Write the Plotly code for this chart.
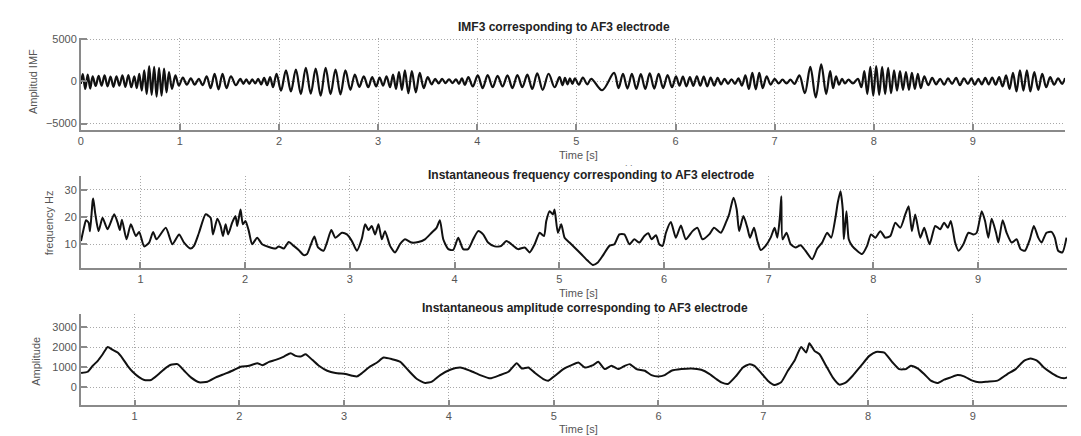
import plotly.graph_objects as go

# ---------------- data ----------------
# IMF3 extrema (time in s, value)
imf_t = [0.000, 0.020, 0.045, 0.070, 0.095, 0.120, 0.150, 0.180, 0.210, 0.240,
         0.270, 0.300, 0.330, 0.360, 0.390, 0.420, 0.450, 0.480, 0.510, 0.540,
         0.565, 0.590, 0.615, 0.640, 0.665, 0.690, 0.715, 0.740, 0.765, 0.790,
         0.815, 0.840, 0.865, 0.890, 0.920, 0.955, 0.990, 1.030, 1.070, 1.110,
         1.150, 1.190, 1.230, 1.270, 1.310, 1.350, 1.390, 1.430, 1.470, 1.515,
         1.565, 1.610, 1.640, 1.670, 1.700, 1.730, 1.760, 1.790, 1.820, 1.850,
         1.880, 1.910, 1.940, 1.975, 2.020, 2.070, 2.120, 2.170, 2.220, 2.270,
         2.320, 2.370, 2.420, 2.470, 2.520, 2.570, 2.620, 2.670, 2.720, 2.765,
         2.810, 2.855, 2.900, 2.940, 2.980, 3.015, 3.050, 3.085, 3.120, 3.150,
         3.180, 3.210, 3.240, 3.270, 3.305, 3.340, 3.380, 3.420, 3.460, 3.500,
         3.540, 3.575, 3.610, 3.645, 3.680, 3.715, 3.750, 3.785, 3.815, 3.845,
         3.875, 3.910, 3.955, 4.005, 4.055, 4.105, 4.155, 4.205, 4.255, 4.305,
         4.355, 4.405, 4.455, 4.505, 4.555, 4.605, 4.660, 4.720, 4.780, 4.830,
         4.860, 4.885, 4.910, 4.935, 4.960, 4.985, 5.025, 5.065, 5.110, 5.150,
         5.260, 5.380, 5.425, 5.470, 5.515, 5.560, 5.605, 5.650, 5.695, 5.740,
         5.785, 5.830, 5.875, 5.920, 5.965, 6.005, 6.040, 6.075, 6.110, 6.145,
         6.180, 6.215, 6.250, 6.285, 6.320, 6.355, 6.390, 6.425, 6.460, 6.495,
         6.530, 6.565, 6.600, 6.635, 6.670, 6.705, 6.740, 6.775, 6.810, 6.845,
         6.880, 6.920, 6.960, 7.000, 7.040, 7.080, 7.120, 7.160, 7.200, 7.250,
         7.305, 7.360, 7.415, 7.470, 7.520, 7.560, 7.590, 7.620, 7.650, 7.680,
         7.710, 7.745, 7.790, 7.840, 7.875, 7.905, 7.935, 7.965, 7.995, 8.025,
         8.055, 8.085, 8.115, 8.145, 8.175, 8.205, 8.235, 8.265, 8.295, 8.325,
         8.355, 8.385, 8.415, 8.445, 8.475, 8.510, 8.550, 8.590, 8.630, 8.670,
         8.710, 8.750, 8.790, 8.830, 8.870, 8.910, 8.950, 8.985, 9.020, 9.055,
         9.090, 9.125, 9.160, 9.195, 9.230, 9.265, 9.300, 9.335, 9.370, 9.405,
         9.440, 9.475, 9.510, 9.545, 9.580, 9.620, 9.660, 9.700, 9.740, 9.780,
         9.820, 9.860, 9.900, 9.930]
imf_v = [-300, 850, -900, 800, -850, 600, -550, 650, -500, 700,
         -600, 550, -650, 600, -500, 700, -650, 750, -700, 600,
         -800, 900, -1100, 1300, -1500, 1800, -1600, 1700, -1800, 1600,
         -1700, 1500, -1300, 1100, -900, 700, -500, 450, -400, 350,
         -400, 300, -450, 600, -800, 900, -950, 900, -800, 600,
         -450, 300, -300, 250, -300, 250, -250, 300, -350, 400,
         -450, 500, -700, 900, -1100, 1300, -1200, 1400, -1500, 1600,
         -1450, 1500, -1700, 1600, -1500, 1400, -1550, 1300, -1000, 800,
         -650, 600, -700, 500, -600, 450, -500, 600, -700, 800,
         -900, 1100, -1000, 1300, -1400, 1200, -1300, 1000, -800, 500,
         -350, 300, -250, 300, -200, 250, -200, 250, -300, 350,
         -400, 500, -600, 700, -800, 750, -700, 650, -600, 700,
         -800, 750, -700, 800, -900, 950, -1000, 900, -700, 500,
         -450, 400, -350, 350, -300, 350, -400, 450, -350, 300,
         -1050, 1000, -800, 900, -850, 900, -900, 850, -900, 950,
         -850, 900, -800, 750, -700, 600, -500, 550, -600, 500,
         -550, 600, -500, 550, -600, 450, -500, 400, -350, 300,
         -300, 250, -300, 350, -500, 700, -900, 1000, -950, 1000,
         -800, 600, -400, 300, -250, 200, -250, 200, -300, 700,
         -1400, 1700, -1900, 2000, -1500, 1200, -800, 600, -400, 300,
         -250, 200, -250, 300, -700, 1200, -1500, 1700, -1700, 1800,
         -1600, 1700, -1500, 1600, -1400, 1300, -1100, 1200, -1000, 1100,
         -1000, 1000, -900, 900, -800, 600, -450, 400, -350, 300,
         -400, 350, -300, 400, -450, 350, -300, 350, -400, 300,
         -350, 400, -350, 450, -400, 500, -600, 700, -900, 1000,
         -1200, 1300, -1100, 1300, -1200, 1100, -1000, 900, -700, 500,
         -400, 350, -300, 400]

# Instantaneous frequency (Hz)
freq_t = [0.432, 0.464, 0.480, 0.505, 0.518, 0.543, 0.549, 0.569, 0.600, 0.638,
          0.686, 0.749, 0.781, 0.803, 0.823, 0.867, 0.908, 0.956, 0.988, 1.035,
          1.083, 1.121, 1.153, 1.242, 1.305, 1.369, 1.416, 1.480, 1.511, 1.559,
          1.623, 1.670, 1.692, 1.734, 1.765, 1.788, 1.813, 1.838, 1.876, 1.908,
          1.924, 1.956, 1.978, 2.003, 2.035, 2.067, 2.115, 2.162, 2.226, 2.289,
          2.321, 2.369, 2.416, 2.464, 2.511, 2.559, 2.591, 2.623, 2.661, 2.696,
          2.749, 2.781, 2.823, 2.861, 2.924, 2.972, 3.019, 3.067, 3.114,
          3.146, 3.178, 3.209, 3.241, 3.273, 3.305, 3.336, 3.384, 3.432, 3.479,
          3.527, 3.590, 3.654, 3.717, 3.781, 3.828, 3.860, 3.892, 3.940, 3.987,
          4.035, 4.082, 4.130, 4.178, 4.225, 4.273, 4.320, 4.384, 4.447, 4.495,
          4.543, 4.606, 4.670, 4.717, 4.765, 4.813, 4.854, 4.876, 4.908, 4.940,
          4.955, 4.987, 5.019, 5.051, 5.098, 5.146, 5.209, 5.273, 5.320, 5.368,
          5.416, 5.479, 5.527, 5.574, 5.622, 5.670, 5.717, 5.765, 5.813, 5.851,
          5.882, 5.924, 5.955, 5.987, 6.019, 6.066, 6.114, 6.162, 6.209, 6.273,
          6.320, 6.368, 6.432, 6.479, 6.543,
          6.591, 6.622, 6.664, 6.695, 6.718, 6.759, 6.797, 6.822, 6.860, 6.892,
          6.924, 6.971, 7.019, 7.057, 7.083, 7.108, 7.121, 7.133, 7.171, 7.210,
          7.257, 7.305, 7.352, 7.416, 7.464, 7.511, 7.559, 7.597, 7.638, 7.660,
          7.686, 7.708, 7.718, 7.743, 7.765, 7.797, 7.845, 7.892, 7.940, 7.978,
          8.019, 8.067, 8.114, 8.162, 8.210, 8.257, 8.305, 8.337, 8.368, 8.400,
          8.448, 8.486, 8.537, 8.591, 8.638, 8.676, 8.711, 8.740, 8.781, 8.813,
          8.860, 8.908, 8.956, 8.987, 9.035, 9.067, 9.098, 9.130, 9.172, 9.194,
          9.235, 9.273, 9.321, 9.368, 9.406, 9.448, 9.495, 9.533, 9.575, 9.606,
          9.654, 9.702, 9.733, 9.765, 9.806, 9.845]
freq_v = [11.2, 16.7, 18.8, 17.9, 14.8, 25.8, 26.8, 21.0, 14.8, 19.7,
          15.5, 21.0, 18.0, 15.2, 19.0, 11.8, 17.3, 13.0, 14.5, 9.2,
          10.6, 14.5, 11.8, 16.0, 10.0, 13.6, 10.6, 8.4, 9.4, 14.2,
          21.0, 19.7, 13.6, 19.3, 16.7, 13.0, 17.3, 13.6, 17.9, 20.3,
          16.7, 22.7, 17.3, 18.5, 14.8, 10.0, 12.4, 10.0, 9.0, 8.4,
          9.2, 8.4, 10.8, 9.4, 7.9, 6.0, 6.4, 9.4, 12.8, 8.8,
          7.6, 10.6, 15.2, 12.4, 14.2, 13.6, 11.2, 7.6, 12.0,
          17.3, 15.2, 16.7, 13.6, 17.3, 11.8, 14.8, 9.4, 7.0, 10.0,
          11.8, 10.6, 10.8, 11.8, 14.2, 16.0, 18.8, 11.8, 8.2, 7.9,
          12.4, 8.2, 8.2, 11.8, 14.8, 13.6, 10.6, 9.2, 9.4, 11.2,
          10.0, 8.2, 8.8, 7.0, 10.0, 14.2, 13.0, 18.5, 22.1, 20.9,
          22.7, 14.2, 17.3, 12.4, 10.6, 8.8, 6.4, 3.9, 2.4, 3.3,
          5.8, 9.4, 10.0, 13.6, 13.6, 10.0, 11.8, 10.6, 13.0, 14.0,
          11.8, 13.3, 10.0, 9.4, 14.2, 18.1, 12.4, 16.9, 11.8, 14.8,
          16.0, 11.8, 13.6, 16.0, 14.2,
          17.9, 20.9, 27.0, 22.7, 14.8, 20.3, 16.0, 12.4, 16.0, 11.2,
          7.9, 9.4, 12.4, 16.0, 12.4, 20.3, 27.6, 11.8, 14.2, 10.0,
          8.8, 9.6, 7.6, 4.5, 8.4, 10.6, 14.2, 12.4, 19.7, 25.2,
          29.4, 22.7, 11.8, 22.1, 11.8, 9.4, 7.6, 6.4, 9.4, 13.6,
          12.4, 14.8, 12.4, 13.0, 17.9, 16.0, 20.9, 23.9, 14.8, 20.9,
          12.4, 16.0, 10.0, 16.7, 15.5, 17.9, 16.0, 18.5, 10.6, 7.6,
          10.0, 14.2, 13.6, 14.2, 22.1, 18.5, 12.4, 19.3, 14.2, 10.6,
          18.8, 14.2, 10.6, 11.8, 8.2, 7.6, 11.8, 16.7, 12.4, 10.6,
          14.2, 14.5, 12.4, 7.6, 7.0, 12.4]

# Instantaneous amplitude
amp_t = [0.489, 0.552, 0.600, 0.648, 0.695, 0.743, 0.791, 0.838, 0.886, 0.933,
         0.981, 1.045, 1.092, 1.156, 1.219, 1.283, 1.346, 1.410, 1.473, 1.537,
         1.616, 1.695, 1.775, 1.854, 1.933, 2.013, 2.092, 2.171, 2.219, 2.283,
         2.346, 2.425, 2.489, 2.537, 2.584, 2.632, 2.695, 2.759, 2.838, 2.917,
         3.013, 3.076, 3.124, 3.171,
         3.235, 3.314, 3.377, 3.457, 3.536, 3.616, 3.695, 3.774, 3.838, 3.917,
         4.012, 4.108, 4.203, 4.298, 4.394, 4.488, 4.568, 4.647, 4.695, 4.758,
         4.822, 4.901, 4.949, 5.012, 5.092, 5.171, 5.235, 5.298, 5.377, 5.425,
         5.488, 5.552, 5.616, 5.679, 5.727, 5.790, 5.870, 5.933, 5.997, 6.060,
         6.124, 6.219, 6.314, 6.409, 6.489, 6.552,
         6.600, 6.663, 6.743, 6.806, 6.870, 6.917, 6.981, 7.044, 7.108, 7.171,
         7.235, 7.298, 7.362, 7.410, 7.441, 7.489, 7.537, 7.600, 7.663, 7.727,
         7.790, 7.854, 7.933, 8.013, 8.076, 8.156, 8.235, 8.298, 8.362, 8.409,
         8.473, 8.536, 8.600, 8.663, 8.727, 8.790, 8.854, 8.917, 8.997, 9.060,
         9.140, 9.235, 9.330, 9.410, 9.489, 9.552, 9.616, 9.679, 9.743, 9.806,
         9.870, 9.902]
amp_v = [708, 774, 1070, 1318, 1647, 2009, 1861, 1729, 1433, 1070,
         774, 494, 362, 362, 609, 906, 1120, 1153, 823, 494,
         247, 280, 494, 659, 823, 1021, 1070, 1202, 1103, 1268,
         1367, 1531, 1696, 1565, 1531, 1647, 1367, 1070, 823, 708,
         659, 576, 543, 708,
         988, 1235, 1482, 1400, 1268, 823, 412, 214, 280, 609,
         873, 988, 823, 609, 445, 609, 774, 1202, 939, 988,
         708, 412, 329, 576, 906, 1103, 1235, 988, 1103, 1268,
         906, 1070, 906, 1070, 1153, 906, 823, 609, 543, 609,
         823, 906, 939, 873, 659, 412,
         247, 165, 576, 988, 1153, 1070, 708, 329, 115, 247,
         823, 1318, 2009, 1729, 2190, 1812, 1647, 1070, 494, 132,
         247, 576, 1070, 1565, 1762, 1729, 1235, 906, 906, 1070,
         939, 659, 329, 214, 379, 494, 609, 543, 329, 247,
         280, 329, 659, 906, 1318, 1433, 1318, 988, 741, 543,
         445, 494]

# tick values
imf_xticks = [0, 1, 2, 3, 4, 5, 6, 7, 8, 9]
imf_yticks = [-5000, 0, 5000]
freq_xticks = [1, 2, 3, 4, 5, 6, 7, 8, 9]
freq_yticks = [10, 20, 30]
amp_xticks = [1, 2, 3, 4, 5, 6, 7, 8, 9]
amp_yticks = [0, 1000, 2000, 3000]

# ---------------- figure ----------------
W, H = 1081, 436
def px_x(p):
    return p / W
def px_y(p):
    return 1 - p / H

fig = go.Figure()
fig.add_trace(go.Scatter(x=imf_t, y=imf_v, mode="lines",
                         line=dict(color="#111111", width=2.2, shape="spline", smoothing=1.0),
                         xaxis="x", yaxis="y", showlegend=False))
fig.add_trace(go.Scatter(x=freq_t, y=freq_v, mode="lines",
                         line=dict(color="#111111", width=2, shape="spline", smoothing=0.6),
                         xaxis="x2", yaxis="y2", showlegend=False))
fig.add_trace(go.Scatter(x=amp_t, y=amp_v, mode="lines",
                         line=dict(color="#111111", width=2, shape="spline", smoothing=0.5),
                         xaxis="x3", yaxis="y3", showlegend=False))

tickfont = dict(family="Liberation Sans, Arial, sans-serif", size=11, color="#555555")
common = dict(showline=True, linecolor="#8a8a8a", linewidth=1.5, ticks="inside", ticklen=6,
              tickcolor="#8a8a8a", tickwidth=1.5, showgrid=True, gridcolor="#a8a8a8", griddash="1px,2px",
              gridwidth=1, zeroline=False, tickfont=tickfont, mirror=False)

fig.update_layout(
    width=W, height=H, margin=dict(l=0, r=0, t=0, b=0),
    paper_bgcolor="white", plot_bgcolor="white",
    xaxis=dict(common, domain=[px_x(78), px_x(1065)], range=[0, 9.93], tickvals=imf_xticks, anchor="y"),
    yaxis=dict(common, domain=[px_y(126), px_y(33)], range=[-5700, 5170], tickvals=imf_yticks, anchor="x"),
    xaxis2=dict(common, domain=[px_x(78), px_x(1067)], range=[0.43, 9.85], tickvals=freq_xticks, anchor="y2"),
    yaxis2=dict(common, domain=[px_y(266), px_y(173)], range=[1.3, 35], tickvals=freq_yticks, anchor="x2"),
    xaxis3=dict(common, domain=[px_x(78), px_x(1067)], range=[0.486, 9.90], tickvals=amp_xticks, anchor="y3"),
    yaxis3=dict(common, domain=[px_y(405), px_y(313)], range=[-900, 3630], tickvals=amp_yticks, anchor="x3"),
)

title_font = dict(family="Liberation Sans, Arial, sans-serif", size=12, color="#222222")
label_font = dict(family="Liberation Sans, Arial, sans-serif", size=11, color="#555555")
ann = []
def add_text(text, x, y, font, angle=0):
    ann.append(dict(text=text, x=px_x(x), y=px_y(y), xref="paper", yref="paper", showarrow=False,
                    font=font, textangle=angle, xanchor="center", yanchor="middle"))

add_text("<b>IMF3 corresponding to AF3 electrode</b>", 563, 22, title_font)
add_text("<b>Instantaneous frequency corresponding to AF3 electrode</b>", 590, 172, title_font)
add_text("<b>Instantaneous amplitude corresponding to AF3 electrode</b>", 584, 307, title_font)
add_text("Time [s]", 577, 152, label_font)
add_text("Time [s]", 577, 291, label_font)
add_text("Time [s]", 577, 429, label_font)
add_text(". .", 628, 160, dict(family="Liberation Sans, Arial, sans-serif", size=9, color="#777777"))
add_text("Amplitud IMF", 30, 77, label_font, -90)
add_text("frequency Hz", 47, 220, label_font, -90)
add_text("Amplitude", 33, 360, label_font, -90)
fig.update_layout(annotations=ann)

fig.write_html("out.html", config={"displayModeBar": False},
               post_script="document.body.style.margin='0px';document.body.style.overflow='hidden';")
